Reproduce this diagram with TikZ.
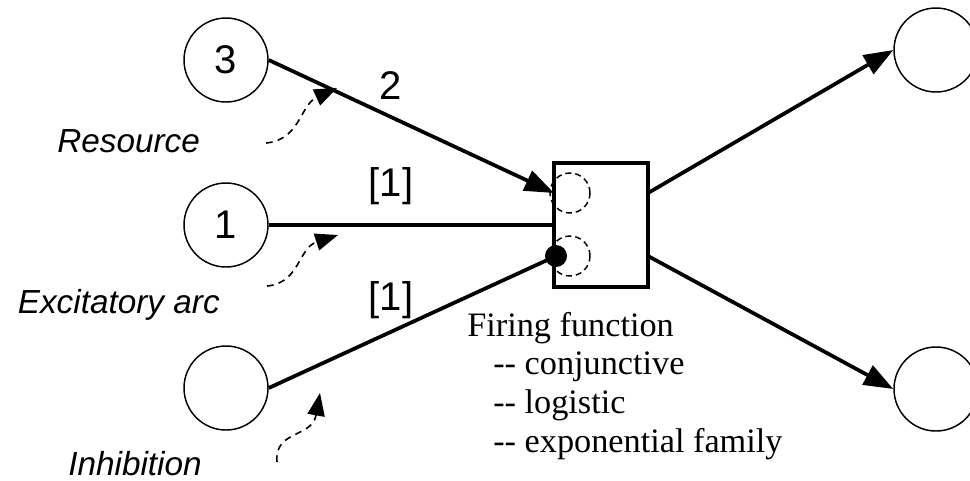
\documentclass[tikz,border=0pt]{standalone}
\usepackage{fontspec}
\setmainfont{Liberation Serif}
\setsansfont{Liberation Sans}
\usetikzlibrary{arrows.meta}
\newcommand{\dd}{-\kern0pt-}
\begin{document}
\begin{tikzpicture}[x=0.75pt,y=-0.75pt,
  place/.style={draw,circle,line width=1.1pt,minimum size=63pt,inner sep=0pt,
    font=\sffamily\fontsize{30}{34}\selectfont},
  trans/.style={draw,rectangle,line width=2.8pt,minimum width=70.5pt,minimum height=93pt,inner sep=0pt,outer sep=0pt},
  ghost/.style={draw,circle,dash pattern=on 4.5pt off 3pt,line width=1.1pt,minimum size=30pt,inner sep=0pt},
  inhdot/.style={fill=black,circle,minimum size=16.5pt,inner sep=0pt},
  arc/.style={line width=2.8pt},
  tip/.style={-{Triangle[length=22pt,width=16pt]}},
  note/.style={line width=1.2pt,dash pattern=on 5pt off 4pt,-{Triangle[length=17pt,width=13pt]}},
  lbl/.style={font=\sffamily\fontsize{30}{34}\selectfont,inner sep=0pt},
  ital/.style={font=\sffamily\itshape\fontsize{25}{30}\selectfont,inner sep=0pt},
  serif/.style={font=\rmfamily\fontsize{25.7}{30}\selectfont,inner sep=0pt,anchor=base west}]
\useasboundingbox (0,0) rectangle (970,480);
% places
\node[place] (p3) at (226,60) {3};
\node[place] (p1) at (226,225) {1};
\node[place] (p0) at (226,388) {};
\node[place] (o1) at (936,50) {};
\node[place] (o2) at (936,389) {};
% transition
\node[trans] (t) at (601,225) {};
\node[ghost] (d1) at (570,193) {};
\node[ghost] (d2) at (570,256) {};
\node[inhdot] (dot) at (556,256) {};
\coordinate (tin) at (t.west |- d1);
\coordinate (tout1) at (t.east |- d1);
\coordinate (tout2) at (t.east |- d2);
% arcs
\draw[arc,tip] (p3.east) -- (tin);
\draw[arc] (p1.east) -- (t.west);
\draw[arc] (p0.east) -- (dot.center);
\draw[arc,tip] (tout1) -- (o1.west);
\draw[arc,tip] (tout2) -- (o2.west);
% arc labels
\node[lbl] (w2) at (391,86) {2};
\node[lbl] (w1a) at (391,186) {[1]};
\node[lbl] (w1b) at (391,300) {[1]};
% annotations
\node[ital,anchor=base west] (res) at (57,152) {Resource};
\node[ital,anchor=base east] (exc) at (220,313) {Excitatory arc};
\node[ital,anchor=base west] (inh) at (68,475) {Inhibition};
\coordinate (s1) at (266,143); \coordinate (e1) at (337,88);
\coordinate (s2) at (267,286); \coordinate (e2) at (338,235);
\coordinate (s3) at (277,462); \coordinate (e3) at (320,393);
\draw[note] (s1) .. controls (300,140) and (300,105) .. (e1);
\draw[note] (s2) .. controls (300,283) and (298,248) .. (e2);
\draw[note] (s3) .. controls (274,430) and (312,438) .. (e3);
% firing function text
\node[serif] (f0) at (467,336) {Firing function};
\node[serif] (f1) at (493,374) {\dd{} conjunctive};
\node[serif] (f2) at (493,413) {\dd{} logistic};
\node[serif] (f3) at (493,452) {\dd{} exponential family};
\end{tikzpicture}
\end{document}
